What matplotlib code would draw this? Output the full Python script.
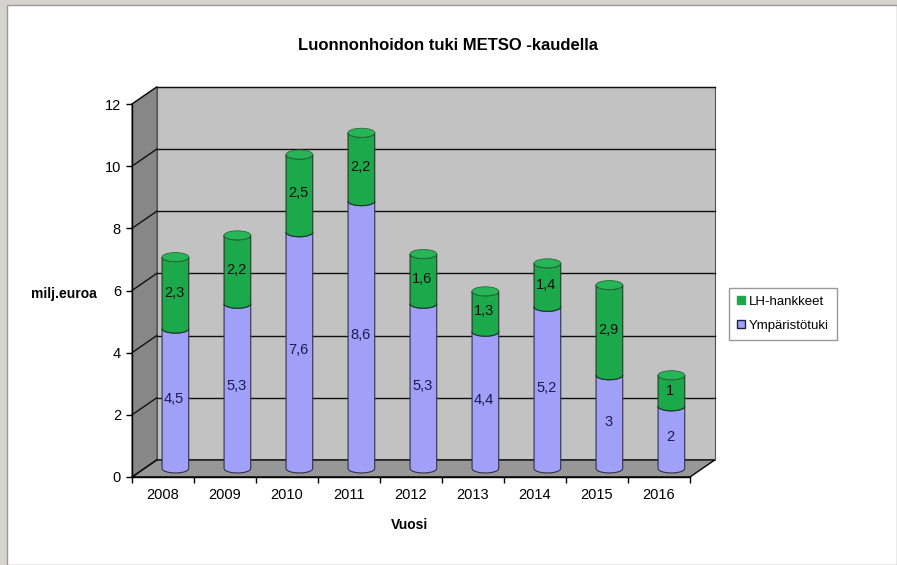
import matplotlib
matplotlib.use('Agg')
import matplotlib.pyplot as plt
import numpy as np
from matplotlib.patches import Polygon, Ellipse, Rectangle

# ---- data ----
years = ['2008', '2009', '2010', '2011', '2012', '2013', '2014', '2015', '2016']
ymparistotuki = [4.5, 5.3, 7.6, 8.6, 5.3, 4.4, 5.2, 3, 2]
lh_hankkeet = [2.3, 2.2, 2.5, 2.2, 1.6, 1.3, 1.4, 2.9, 1]
yticks = [0, 2, 4, 6, 8, 10, 12]
title = 'Luonnonhoidon tuki METSO -kaudella'
ylabel = 'milj.euroa'
xlabel = 'Vuosi'
series_names = ['LH-hankkeet', 'Ympäristötuki']

plt.rcParams['font.family'] = ['Liberation Sans', 'DejaVu Sans']

W, H = 897, 565
fig = plt.figure(figsize=(W / 100, H / 100), dpi=100, facecolor='#D6D3CE')
fig.patches.append(Rectangle((7 / W, 0), 1 - 7 / W, 1 - 5 / H, transform=fig.transFigure,
                             facecolor='white', edgecolor='#9A9A9A', lw=1, zorder=-10))

ax = fig.add_axes([132 / W, 1 - 477 / H, 558 / W, 373 / H])
n = len(years)
ax.set_xlim(-0.5, n - 0.5)
ax.set_ylim(0, 12)
ax.patch.set_visible(False)
for s in ['top', 'right']:
    ax.spines[s].set_visible(False)
ax.spines['left'].set_linewidth(1)
ax.spines['bottom'].set_linewidth(1)

DX, DY = 0.4, 0.55
x0, x1 = -0.5, n - 0.5
ymax = 12

# walls
left_wall = Polygon([(x0, 0), (x0 + DX, DY), (x0 + DX, ymax + DY), (x0, ymax)],
                    closed=True, facecolor='#878787', edgecolor='#555555', lw=0.8,
                    clip_on=False, zorder=0.5)
back_wall = Polygon([(x0 + DX, DY), (x1 + DX, DY), (x1 + DX, ymax + DY), (x0 + DX, ymax + DY)],
                    closed=True, facecolor='#C2C2C2', edgecolor='#555555', lw=0.8,
                    clip_on=False, zorder=0.5)
floor = Polygon([(x0, 0), (x1, 0), (x1 + DX, DY), (x0 + DX, DY)],
                closed=True, facecolor='#979797', edgecolor='black', lw=1,
                clip_on=False, zorder=0.6)
for p in (left_wall, back_wall, floor):
    ax.add_patch(p)

for v in yticks:
    if v > 0:
        ax.plot([x0 + DX, x1 + DX], [v + DY, v + DY], color='#111111', lw=1, clip_on=False, zorder=0.7)
    ax.plot([x0, x0 + DX], [v, v + DY], color='#111111', lw=1, clip_on=False, zorder=0.7)

# cylinders
a = 0.215
b = 0.145
base = DY / 2
t = np.linspace(np.pi, 2 * np.pi, 60)


def body(cx, y0, y1, color, z, ec):
    xs = np.concatenate([cx + a * np.cos(t), (cx + a * np.cos(t))[::-1]])
    ys = np.concatenate([y0 + b * np.sin(t), (y1 + b * np.sin(t))[::-1]])
    ax.add_patch(Polygon(np.column_stack([xs, ys]), closed=True, facecolor=color,
                         edgecolor=ec, lw=0.8, zorder=z, clip_on=False))


purple = '#A0A0F8'
green = '#1CA94B'
green_top = '#26B658'


def lbl(v):
    return f'{v:g}'.replace('.', ',')


for i in range(n):
    cx = i + DX / 2
    p = ymparistotuki[i]
    g = lh_hankkeet[i]
    body(cx, base, base + p, purple, 2, '#303050')
    body(cx, base + p, base + p + g, green, 2.1, '#1c3a24')
    ax.add_patch(Ellipse((cx, base + p + g), 2 * a, 2 * b, facecolor=green_top,
                         edgecolor='#2a6a3c', lw=0.6, zorder=2.2, clip_on=False))
    ax.text(cx - 0.02, base + p / 2, lbl(p), ha='center', va='center', fontsize=10.5,
            color='#1a1a50', zorder=3)
    ax.text(cx - 0.02, base + p + g / 2, lbl(g), ha='center', va='center', fontsize=10.5,
            color='#101010', zorder=3)

# ticks
ax.set_yticks(yticks)
ax.set_yticklabels([str(v) for v in yticks], fontsize=10.5)
ax.tick_params(axis='y', length=4, width=1, pad=4)
ax.set_xticks(range(n))
ax.set_xticklabels(years, fontsize=10.5)
ax.set_xticks(np.arange(-0.5, n, 1.0), minor=True)
ax.tick_params(axis='x', which='major', length=0, pad=8)
ax.tick_params(axis='x', which='minor', length=4, width=1)

fig.text(448 / W, 1 - 46 / H, title, ha='center', va='center', fontsize=12, fontweight='bold')
fig.text(64 / W, 1 - 294 / H, ylabel, ha='center', va='center', fontsize=10, fontweight='bold')
fig.text(410 / W, 1 - 525 / H, xlabel, ha='center', va='center', fontsize=10, fontweight='bold')

handles = [Rectangle((0, 0), 1, 1, facecolor=green, edgecolor=green),
           Rectangle((0, 0), 1, 1, facecolor=purple, edgecolor='#202040')]
leg = fig.legend(handles, series_names, loc='upper left',
                 bbox_to_anchor=(729 / W, 1 - 288 / H), fontsize=9.5,
                 frameon=True, fancybox=False, edgecolor='#808080',
                 handlelength=0.6, handleheight=0.6, handletextpad=0.3,
                 borderpad=0.6, labelspacing=0.9, borderaxespad=0)
leg.get_frame().set_linewidth(1)

fig.savefig('out.png', dpi=100, facecolor=fig.get_facecolor())
